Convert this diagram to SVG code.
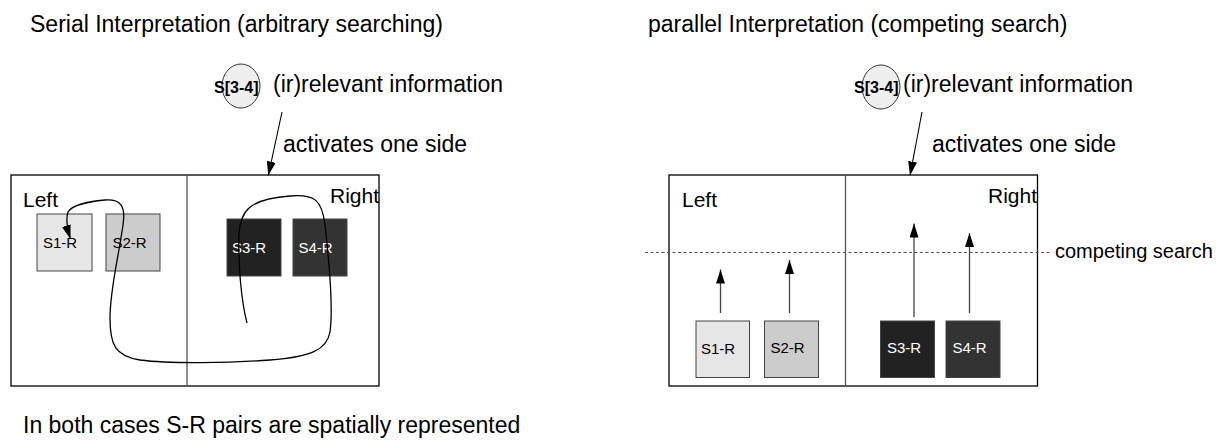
<svg xmlns="http://www.w3.org/2000/svg" width="1220" height="440" viewBox="0 0 1220 440">
<style>
text{font-family:"Liberation Sans",Arial,sans-serif;fill:#000}
.big{font-size:23px}
.side{font-size:21px}
.sr{font-size:15px}
.srw{font-size:15px;fill:#fff}
.cl{font-size:16px;font-weight:bold}
.panel{fill:none;stroke:#000;stroke-width:1.3}
.div{stroke:#555;stroke-width:1.3}
.box{stroke:#444;stroke-width:1}
.circ{fill:#eeeeee;stroke:#333;stroke-width:1}
.arr{stroke:#000;stroke-width:1.1;fill:none}
.up{stroke:#444;stroke-width:1.3;fill:none}
.curve{stroke:#000;stroke-width:1.3;fill:none}
.dot{stroke:#555;stroke-width:1.2;stroke-dasharray:3,2.5}
</style>
<defs>
<marker id="ah" markerUnits="userSpaceOnUse" markerWidth="15" markerHeight="10" refX="14" refY="4.5" orient="auto">
<path d="M0,0 L14,4.5 L0,9 z" fill="#000"/>
</marker>
</defs>

<g id="titles">
<text class="big" x="30" y="31.5">Serial Interpretation (arbitrary searching)</text>
<text class="big" x="648" y="31.5">parallel Interpretation (competing search)</text>
<text class="big" x="23" y="433">In both cases S-R pairs are spatially represented</text>
</g>

<!-- Left (serial) panel -->
<g id="serial-panel">
<rect class="panel" x="11" y="175" width="368" height="211"/>
<line class="div" x1="187" y1="175" x2="187" y2="386"/>
<text class="side" x="23" y="206.5">Left</text>
<text class="side" x="379" y="203" text-anchor="end">Right</text>
</g>
<g id="serial-info">
<ellipse class="circ" cx="241" cy="86" rx="19" ry="22"/>
<text class="cl" x="214" y="93">S[3-4]</text>
<text class="big" x="273" y="92">(ir)relevant information</text>
<text class="big" x="283" y="151.5">activates one side</text>
</g>
<g id="serial-s1"><rect class="box" x="37" y="214" width="55" height="57" fill="#e6e6e6"/><text class="sr" x="43" y="248">S1-R</text></g>
<g id="serial-s2"><rect class="box" x="106" y="214" width="54" height="57" fill="#cccccc"/><text class="sr" x="112.5" y="248">S2-R</text></g>
<g id="serial-s3"><rect class="box" x="227" y="219" width="54" height="57" fill="#222222"/><text class="srw" x="232" y="252.5">S3-R</text></g>
<g id="serial-s4"><rect class="box" x="293" y="219" width="54" height="57" fill="#333333"/><text class="srw" x="298.5" y="252.5">S4-R</text></g>

<!-- Right (parallel) panel -->
<g id="parallel-panel">
<rect class="panel" x="669" y="175" width="368.5" height="211"/>
<line class="div" x1="845.5" y1="175" x2="845.5" y2="386"/>
<text class="side" x="682" y="206.5">Left</text>
<text class="side" x="1037" y="203" text-anchor="end">Right</text>
<line class="dot" x1="645" y1="252.5" x2="1050" y2="252.5"/>
<text x="1055" y="258" style="font-size:20px">competing search</text>
</g>
<g id="parallel-info">
<ellipse class="circ" cx="881" cy="87" rx="19" ry="22"/>
<text class="cl" x="854" y="93">S[3-4]</text>
<text class="big" x="903" y="92">(ir)relevant information</text>
<text class="big" x="932" y="151.5">activates one side</text>
</g>
<g id="parallel-s1"><rect class="box" x="696" y="321" width="53.5" height="56.5" fill="#e6e6e6"/><text class="sr" x="701" y="354">S1-R</text></g>
<g id="parallel-s2"><rect class="box" x="764.5" y="321" width="54" height="56.5" fill="#cccccc"/><text class="sr" x="770.5" y="353">S2-R</text></g>
<g id="parallel-s3"><rect class="box" x="880.5" y="321" width="54" height="56.5" fill="#222222"/><text class="srw" x="887" y="353">S3-R</text></g>
<g id="parallel-s4"><rect class="box" x="946" y="321" width="54" height="56.5" fill="#333333"/><text class="srw" x="952.5" y="353">S4-R</text></g>

<g id="connectors">
<line class="arr" x1="282" y1="112" x2="268.3" y2="175.5" marker-end="url(#ah)"/>
<line class="arr" x1="922" y1="112" x2="910" y2="175.5" marker-end="url(#ah)"/>
<path class="curve" marker-end="url(#ah)" d="M247,323 C241,300 238,262 239,235 C240,210 250,199 290,196 C315,194 322,200 325,225 C329,260 333,310 330,332 C327,350 310,357 270,360 C230,363 170,364 140,360 C115,356 110,345 110,318 C110,290 118,260 123,225 C126,205 120,199 105,200 C85,202 72,205 68,212 C66,218 67,228 70.5,239"/>
<line class="up" x1="720.5" y1="313" x2="720.5" y2="269.5" marker-end="url(#ah)"/>
<line class="up" x1="789.5" y1="313" x2="789.5" y2="260" marker-end="url(#ah)"/>
<line class="up" x1="914" y1="317" x2="914" y2="223.5" marker-end="url(#ah)"/>
<line class="up" x1="969.5" y1="313" x2="969.5" y2="233" marker-end="url(#ah)"/>
</g>
</svg>
